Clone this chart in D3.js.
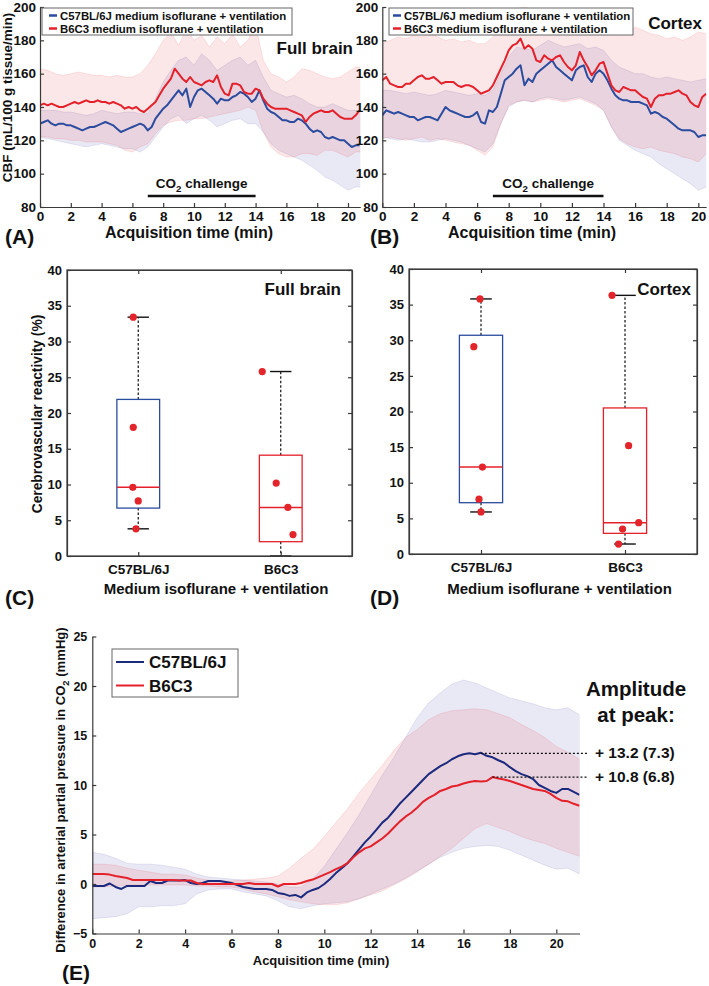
<!DOCTYPE html>
<html>
<head>
<meta charset="utf-8">
<script src="https://cdn.jsdelivr.net/npm/d3@7"></script>
<style>
  body { margin: 0; background: #fff; }
  svg text { font-family: "Liberation Sans", Arial, Helvetica, sans-serif; font-weight: bold; fill: #111; }
</style>
</head>
<body>
<script>
// sampling of the time courses (minutes)
const cbfStep = 0.25;
const bandStep = 0.5;

// (A) full brain CBF, mean and SD envelope
const fullC57 = [130,131,132,130,129,130,130,129,129,128,127,126,127,128,128,129,130,131,130,129,127,125,126,127,128,129,130,129,126,128,133,136,139,141,144,147,150,147,151,140,146,150,151,149,147,145,142,145,144,144,146,147,149,148,146,143,145,150,144,139,137,136,134,132,132,131,131,133,132,130,127,125,126,125,122,121,122,121,120,120,118,116,117,117];
const fullB6C3 = [141,142,141,142,141,140,140,141,142,143,142,143,144,143,143,144,143,143,142,143,142,141,139,140,139,140,138,137,139,141,143,147,151,154,157,163,160,157,155,158,155,154,153,155,156,155,159,152,148,147,154,154,153,149,148,148,151,150,145,142,140,139,139,139,139,138,137,136,135,131,134,136,137,138,137,137,138,136,134,133,133,133,135,138];
const fullC57Hi = [138,138,138,137,137,136,135,136,138,137,136,137,137,136,136,145,155,162,168,170,165,172,168,162,165,168,170,165,168,158,150,148,146,147,145,142,140,140,142,140,138,138,137];
const fullC57Lo = [122,121,120,119,118,117,116,117,118,117,116,115,115,113,116,122,128,133,135,130,133,135,132,128,130,132,133,130,130,125,118,114,112,110,108,105,102,98,96,93,90,92,92];
const fullB6C3Hi = [163,162,160,159,160,161,160,159,159,158,159,158,158,160,165,172,180,185,177,187,180,183,176,182,178,184,176,180,189,168,160,158,155,158,163,162,160,158,157,158,161,164,164];
const fullB6C3Lo = [122,122,121,121,120,120,119,119,119,118,117,114,113,116,118,124,129,131,132,132,133,133,134,135,136,137,138,140,138,125,116,112,110,110,112,112,111,114,114,112,110,113,113];

// (B) cortex CBF
const ctxC57 = [135,138,137,136,137,136,135,134,134,132,133,134,134,133,132,136,140,138,137,136,135,134,134,135,137,131,130,138,137,140,148,156,158,160,163,165,153,157,155,160,162,164,166,168,164,162,160,158,156,162,164,165,158,155,160,162,160,156,151,147,145,144,144,143,143,143,142,141,136,137,136,134,133,131,129,127,126,126,126,125,122,123,123];
const ctxB6C3 = [156,158,154,153,152,152,154,154,156,158,159,157,157,158,156,154,155,155,155,153,152,153,153,152,150,148,149,150,153,158,163,168,174,177,178,181,175,177,175,168,167,171,169,168,170,171,167,164,162,165,173,168,164,159,162,166,167,160,153,150,149,152,151,150,150,148,146,145,140,145,147,147,148,148,149,150,148,147,143,141,140,146,148];
const ctxC57Hi = [150,150,149,148,149,148,147,148,150,149,148,147,148,147,150,160,170,176,175,174,177,180,178,176,177,178,175,176,174,168,164,162,160,160,158,157,158,157,156,155,156,157,157];
const ctxC57Lo = [122,121,120,121,120,119,119,120,121,120,119,117,115,113,118,130,140,143,144,143,145,146,145,144,145,146,144,142,138,128,120,117,114,112,110,106,103,100,97,94,90,92,92];
const ctxB6C3Hi = [178,180,182,181,183,182,184,182,180,181,179,180,178,178,182,190,196,199,200,198,199,197,198,196,199,197,196,198,195,188,185,184,188,186,184,183,181,182,180,182,185,184,184];
const ctxB6C3Lo = [121,122,121,120,121,122,120,121,120,119,118,117,114,111,116,130,141,143,144,143,144,145,144,143,144,145,143,141,138,128,121,118,116,115,116,114,113,112,110,109,107,112,112];

const co2Challenge = [7, 14];

// (C) and (D) cerebrovascular reactivity (%)
const strains = ['C57BL/6J', 'B6C3'];
const fullReact = [[33.4, 18.0, 9.6, 7.7, 3.8], [25.8, 10.2, 6.8, 3.0]];
const fullJitter = [[-0.035, -0.035, -0.038, 0, -0.016], [-0.13, -0.032, 0.05, 0.086]];
const fullBoxes = [[3.8, 6.7, 9.6, 21.9, 33.4], [0, 2.0, 6.8, 14.1, 25.8]];   // lo, q1, median, q3, hi
const ctxReact = [[35.8, 29.1, 12.2, 7.7, 5.9], [36.3, 15.2, 4.4, 3.5, 1.4]];
const ctxJitter = [[-0.007, -0.05, 0.01, -0.014, 0], [-0.09, 0.025, 0.095, -0.017, -0.045]];
const ctxBoxes = [[5.9, 7.2, 12.2, 30.7, 35.8], [1.4, 2.9, 4.4, 20.5, 36.3]];

// (E) arterial pCO2 difference (mmHg)
const pco2C57 = [-0.2,-0.2,-0.2,0.05,-0.3,-0.5,-0.2,-0.2,-0.2,-0.2,0.3,0.1,0.1,0.35,0.35,0.35,0.4,0.1,0.0,0.1,0.3,0.3,0.3,0.2,0.1,-0.1,-0.3,-0.4,-0.5,-0.5,-0.5,-0.6,-0.9,-1.0,-1.2,-1.1,-1.35,-0.85,-0.6,-0.4,0.0,0.5,1.1,1.6,2.1,2.8,3.5,4.2,4.8,5.5,6.2,6.7,7.4,8.1,8.7,9.3,9.9,10.5,11.1,11.5,11.9,12.2,12.6,12.9,13.1,13.2,13.1,13.25,12.95,12.8,12.5,12.25,11.8,11.4,11.1,10.9,10.6,10.0,9.7,9.4,9.2,9.6,9.6,9.3,9.0];
const pco2B6C3 = [1.0,1.0,1.0,0.95,0.8,0.7,0.6,0.4,0.4,0.4,0.4,0.4,0.4,0.4,0.4,0.35,0.35,0.35,0.1,0.0,0.0,0.0,0.0,0.0,0.0,0.0,0.0,0.1,0.0,0.0,0.0,0.0,-0.25,0.0,0.0,0.0,0.1,0.3,0.45,0.7,0.95,1.2,1.5,1.75,2.1,2.7,3.2,3.6,3.8,4.2,4.6,5.1,5.7,6.3,6.8,7.2,7.7,8.3,8.7,9.0,9.4,9.6,9.85,9.95,10.15,10.3,10.4,10.35,10.4,10.8,10.65,10.55,10.4,10.2,10.0,9.8,9.6,9.5,9.4,9.1,8.7,8.4,8.35,8.1,7.9];
const pco2C57Hi = [3.2,3.0,2.6,2.1,2.0,2.0,1.9,1.7,1.5,1.0,0.7,0.6,0.5,0.4,0.3,0.2,0.0,-0.3,-0.3,0.5,1.8,3.5,5.2,7.0,9.0,11.0,12.8,14.8,16.8,18.3,19.3,20.2,20.6,20.3,19.8,19.3,18.8,18.5,18.2,17.8,17.6,17.8,17.1];
const pco2C57Lo = [-3.5,-3.4,-3.3,-3.0,-2.3,-2.3,-2.2,-2.2,-2.0,-1.0,-0.6,-0.5,-0.5,-0.8,-1.0,-1.2,-1.7,-2.3,-2.5,-2.2,-2.0,-1.9,-1.8,-1.5,-1.0,-0.5,0.0,0.6,1.3,2.0,2.7,3.2,3.6,3.8,3.9,3.8,3.4,2.9,2.4,1.9,1.5,1.6,1.0];
const pco2B6C3Hi = [2.0,2.0,1.9,1.6,1.4,1.2,1.0,1.0,0.9,0.6,0.4,0.3,0.3,0.4,0.5,0.6,0.8,1.6,2.6,3.5,4.8,6.2,7.6,9.2,10.6,12.0,13.5,14.8,15.6,16.6,17.2,17.5,17.6,17.7,17.6,17.2,16.8,16.1,15.5,14.8,13.9,13.3,12.6];
const pco2B6C3Lo = [-0.3,-0.3,-0.2,-0.1,-0.1,-0.1,-0.1,-0.1,-0.1,-0.2,-0.2,-0.3,-0.3,-0.5,-0.8,-1.0,-1.3,-1.6,-1.8,-2.0,-2.1,-2.1,-1.9,-1.5,-1.1,-0.7,-0.1,0.5,1.2,2.0,2.8,3.6,4.6,5.6,6.1,5.7,5.3,4.8,4.4,4.1,3.6,3.2,2.8];
const peakTime = [16.75, 17.25];
const peakValue = [13.2, 10.8];
const peakSD = [7.3, 6.8];

const blue = '#2b4c9e', red = '#e4202a', navy = '#1c2a7e';
const blueFill = '#3838a8', redFill = '#e8202a';

const svg = d3.select('body').append('svg')
  .attr('width', 709)
  .attr('height', 986);

const series = (vals, step) => vals.map((v, i) => [i * step, v]);
const envelope = (lo, hi, step) => lo.map((v, i) => [i * step, v, hi[i]]);

function styleAxis(g, size) {
  g.attr('font-size', size).attr('font-family', null);
  g.select('.domain').attr('stroke', '#3a3a3a').attr('stroke-width', 1.2);
  g.selectAll('.tick line').attr('stroke', '#3a3a3a').attr('stroke-width', 1.2);
}

function co2Text(sel, before, after) {
  sel.append('tspan').text(before + 'CO');
  sel.append('tspan').attr('dy', 4).attr('font-size', '0.72em').text('2');
  sel.append('tspan').attr('dy', -4).text(after);
}

function drawBands(plot, x, y, bands) {
  const area = d3.area().x(d => x(d[0])).y0(d => y(d[1])).y1(d => y(d[2]));
  bands.forEach(b => {
    plot.append('path')
      .datum(b.data)
      .attr('d', area)
      .attr('fill', b.color)
      .attr('fill-opacity', 0.11)
      .attr('stroke', b.color)
      .attr('stroke-opacity', 0.16)
      .attr('stroke-width', 0.7);
  });
}

function drawLines(plot, x, y, lines) {
  const line = d3.line().x(d => x(d[0])).y(d => y(d[1]));
  lines.forEach(l => {
    plot.append('path')
      .datum(l.data)
      .attr('d', line)
      .attr('fill', 'none')
      .attr('stroke', l.color)
      .attr('stroke-width', 2)
      .attr('stroke-linejoin', 'round');
  });
}

// ---------- CBF panels (A), (B) ----------
function cbfPanel(o) {
  const top = 7, bottom = 207;
  const x = d3.scaleLinear().domain([0, o.tMax]).range([o.left, o.right]);
  const y = d3.scaleLinear().domain([80, 200]).range([bottom, top]);

  svg.append('clipPath').attr('id', 'clip' + o.key)
    .append('rect')
    .attr('x', o.left).attr('y', top)
    .attr('width', o.right - o.left).attr('height', bottom - top);

  const plot = svg.append('g').attr('clip-path', `url(#clip${o.key})`);
  drawBands(plot, x, y, [
    { data: envelope(o.c57Lo, o.c57Hi, bandStep), color: blueFill },
    { data: envelope(o.b6Lo, o.b6Hi, bandStep), color: redFill }
  ]);
  drawLines(plot, x, y, [
    { data: series(o.c57, cbfStep), color: blue },
    { data: series(o.b6, cbfStep), color: red }
  ]);

  const xAxis = d3.axisBottom(x).tickValues(d3.range(0, 21, 2)).tickSize(-4).tickSizeOuter(0).tickPadding(4);
  const yAxis = d3.axisLeft(y).tickValues(d3.range(80, 201, 20)).tickSize(-4).tickSizeOuter(0).tickPadding(4);
  svg.append('g').attr('transform', `translate(0, ${bottom})`).call(xAxis).call(g => styleAxis(g, 13.5));
  svg.append('g').attr('transform', `translate(${o.left}, 0)`).call(yAxis).call(g => styleAxis(g, 13.5));

  // CO2 challenge bar
  svg.append('line')
    .attr('x1', x(co2Challenge[0])).attr('x2', x(co2Challenge[1]))
    .attr('y1', 196).attr('y2', 196)
    .attr('stroke', '#111').attr('stroke-width', 2.6);
  svg.append('text')
    .attr('x', x(d3.mean(co2Challenge))).attr('y', 188)
    .attr('text-anchor', 'middle').attr('font-size', 13.5)
    .call(t => co2Text(t, '', ' challenge'));

  // legend
  const lg = svg.append('g');
  lg.append('rect')
    .attr('x', o.legX).attr('y', 8).attr('width', o.legW).attr('height', 27)
    .attr('fill', '#fff').attr('stroke', '#666').attr('stroke-width', 1);
  [['C57BL/6J medium isoflurane + ventilation', blue], ['B6C3 medium isoflurane + ventilation', red]]
    .forEach(([label, col], i) => {
      const by = 19.5 + i * 13;
      lg.append('line')
        .attr('x1', o.legX + o.legPad).attr('x2', o.legX + o.legPad + 8)
        .attr('y1', by - 4).attr('y2', by - 4)
        .attr('stroke', col).attr('stroke-width', 2.5);
      lg.append('text')
        .attr('x', o.legX + o.legPad + 11).attr('y', by)
        .attr('font-size', 11.4)
        .text(label);
    });

  svg.append('text')
    .attr('x', o.titleX).attr('y', o.titleY)
    .attr('text-anchor', 'end').attr('font-size', 17)
    .text(o.title);

  svg.append('text')
    .attr('x', o.xLabelX).attr('y', 238)
    .attr('text-anchor', 'middle').attr('font-size', 16)
    .text('Acquisition time (min)');

  svg.append('text')
    .attr('x', o.tagX).attr('y', 244)
    .attr('font-size', 21)
    .text(o.tag);
}

cbfPanel({
  key: 'A', left: 40, right: 360.3, tMax: 20.8,
  c57: fullC57, b6: fullB6C3,
  c57Lo: fullC57Lo, c57Hi: fullC57Hi, b6Lo: fullB6C3Lo, b6Hi: fullB6C3Hi,
  legX: 42, legW: 250, legPad: 7,
  title: 'Full brain', titleX: 353, titleY: 54,
  xLabelX: 189, tag: '(A)', tagX: 5
});

cbfPanel({
  key: 'B', left: 382.3, right: 706.2, tMax: 20.5,
  c57: ctxC57, b6: ctxB6C3,
  c57Lo: ctxC57Lo, c57Hi: ctxC57Hi, b6Lo: ctxB6C3Lo, b6Hi: ctxB6C3Hi,
  legX: 389, legW: 244, legPad: 4,
  title: 'Cortex', titleX: 702, titleY: 29,
  xLabelX: 532, tag: '(B)', tagX: 370
});

svg.append('text')
  .attr('transform', 'translate(12, 97.5) rotate(-90)')
  .attr('text-anchor', 'middle').attr('font-size', 13.5)
  .text('CBF (mL/100 g tissue/min)');

// ---------- Box plots (C), (D) ----------
function boxPanel(o) {
  const x = d3.scaleLinear().domain([0.5, 2.5]).range([o.left, o.right]);
  const y = d3.scaleLinear().domain([0, 40]).range([o.bottom, o.top]);
  const g = svg.append('g');
  const half = 0.15, capHalf = 0.075;
  const boxColors = [blue, red];

  o.boxes.forEach((b, i) => {
    const c = i + 1;
    const [lo, q1, med, q3, hi] = b;
    [[q3, hi], [q1, lo]].forEach(([a, e]) => {
      g.append('line')
        .attr('x1', x(c)).attr('x2', x(c)).attr('y1', y(a)).attr('y2', y(e))
        .attr('stroke', '#111').attr('stroke-width', 1.2).attr('stroke-dasharray', '2.5,2');
    });
    g.append('rect')
      .attr('x', x(c - half)).attr('y', y(q3))
      .attr('width', x(c + half) - x(c - half)).attr('height', y(q1) - y(q3))
      .attr('fill', 'none').attr('stroke', boxColors[i]).attr('stroke-width', 1.3);
    g.append('line')
      .attr('x1', x(c - half)).attr('x2', x(c + half)).attr('y1', y(med)).attr('y2', y(med))
      .attr('stroke', red).attr('stroke-width', 1.5);
    [lo, hi].forEach(v => {
      g.append('line')
        .attr('x1', x(c - capHalf)).attr('x2', x(c + capHalf)).attr('y1', y(v)).attr('y2', y(v))
        .attr('stroke', '#111').attr('stroke-width', 1.4);
    });
  });

  o.points.forEach((pts, i) => {
    g.selectAll(null)
      .data(pts)
      .enter()
      .append('circle')
      .attr('cx', (d, j) => x(i + 1 + o.jitter[i][j]))
      .attr('cy', d => y(d))
      .attr('r', 3.6)
      .attr('fill', '#e3242b');
  });

  // frame and axes
  svg.append('rect')
    .attr('x', o.left).attr('y', o.top)
    .attr('width', o.right - o.left).attr('height', o.bottom - o.top)
    .attr('fill', 'none').attr('stroke', '#3a3a3a').attr('stroke-width', 1.2);

  const yTicks = d3.range(0, 41, 5);
  svg.append('g').attr('transform', `translate(${o.left}, 0)`)
    .call(d3.axisLeft(y).tickValues(yTicks).tickSize(-4).tickSizeOuter(0).tickPadding(5))
    .call(a => styleAxis(a, 13));
  svg.append('g').attr('transform', `translate(${o.right}, 0)`)
    .call(d3.axisRight(y).tickValues(yTicks).tickSize(-4).tickSizeOuter(0).tickFormat(''))
    .call(a => styleAxis(a, 13));
  svg.append('g').attr('transform', `translate(0, ${o.bottom})`)
    .call(d3.axisBottom(x).tickValues([1, 2]).tickSize(-4).tickSizeOuter(0).tickPadding(8)
      .tickFormat(d => strains[d - 1]))
    .call(a => styleAxis(a, 13.5));
  svg.append('g').attr('transform', `translate(0, ${o.top})`)
    .call(d3.axisTop(x).tickValues([1, 2]).tickSize(-4).tickSizeOuter(0).tickFormat(''))
    .call(a => styleAxis(a, 13));

  svg.append('text')
    .attr('x', o.titleX).attr('y', 295)
    .attr('text-anchor', 'end').attr('font-size', 17)
    .text(o.title);

  svg.append('text')
    .attr('x', (o.left + o.right) / 2 + 6.5).attr('y', 594)
    .attr('text-anchor', 'middle').attr('font-size', 15)
    .text('Medium isoflurane + ventilation');

  svg.append('text')
    .attr('x', o.tagX).attr('y', 605)
    .attr('font-size', 21)
    .text(o.tag);
}

boxPanel({
  left: 67, right: 352, top: 270, bottom: 556,
  points: fullReact, jitter: fullJitter, boxes: fullBoxes,
  title: 'Full brain', titleX: 341, tag: '(C)', tagX: 5
});

boxPanel({
  left: 409, right: 697, top: 269, bottom: 554,
  points: ctxReact, jitter: ctxJitter, boxes: ctxBoxes,
  title: 'Cortex', titleX: 691, tag: '(D)', tagX: 370
});

svg.append('text')
  .attr('transform', 'translate(42, 414) rotate(-90)')
  .attr('text-anchor', 'middle').attr('font-size', 13.8)
  .text('Cerebrovascular reactivity (%)');

// ---------- pCO2 panel (E) ----------
{
  const left = 92.3, right = 579.5, top = 636.5, bottom = 933.5;
  const x = d3.scaleLinear().domain([0, 21]).range([left, right]);
  const y = d3.scaleLinear().domain([-5, 25]).range([bottom, top]);

  svg.append('clipPath').attr('id', 'clipE')
    .append('rect')
    .attr('x', left).attr('y', top).attr('width', right - left).attr('height', bottom - top);
  const plot = svg.append('g').attr('clip-path', 'url(#clipE)');

  drawBands(plot, x, y, [
    { data: envelope(pco2C57Lo, pco2C57Hi, bandStep), color: blueFill },
    { data: envelope(pco2B6C3Lo, pco2B6C3Hi, bandStep), color: redFill }
  ]);
  drawLines(plot, x, y, [
    { data: series(pco2C57, cbfStep), color: navy },
    { data: series(pco2B6C3, cbfStep), color: red }
  ]);

  svg.append('g').attr('transform', `translate(0, ${bottom})`)
    .call(d3.axisBottom(x).tickValues(d3.range(0, 21, 2)).tickSize(-4).tickSizeOuter(0).tickPadding(6))
    .call(a => styleAxis(a, 12.5));
  svg.append('g').attr('transform', `translate(${left}, 0)`)
    .call(d3.axisLeft(y).tickValues(d3.range(-5, 26, 5)).tickSize(-4).tickSizeOuter(0).tickPadding(5))
    .call(a => styleAxis(a, 12.5));

  // peak amplitude annotations
  peakTime.forEach((t, i) => {
    svg.append('line')
      .attr('x1', x(t)).attr('x2', 588)
      .attr('y1', y(peakValue[i])).attr('y2', y(peakValue[i]))
      .attr('stroke', '#111').attr('stroke-width', 1.2).attr('stroke-dasharray', '2,2');
    svg.append('text')
      .attr('x', 595).attr('y', y(peakValue[i]) + 4.5)
      .attr('font-size', 15.5)
      .text(`+ ${peakValue[i].toFixed(1)} (${peakSD[i].toFixed(1)})`);
  });

  svg.append('text')
    .attr('x', 636).attr('y', 696)
    .attr('text-anchor', 'middle').attr('font-size', 20.5)
    .text('Amplitude');
  svg.append('text')
    .attr('x', 636).attr('y', 722)
    .attr('text-anchor', 'middle').attr('font-size', 20.5)
    .text('at peak:');

  // legend
  const lg = svg.append('g');
  lg.append('rect')
    .attr('x', 112).attr('y', 649).attr('width', 126).attr('height', 48)
    .attr('fill', '#fff').attr('stroke', '#666').attr('stroke-width', 1);
  [['C57BL/6J', navy], ['B6C3', red]].forEach(([label, col], i) => {
    const by = 668 + i * 23.5;
    lg.append('line')
      .attr('x1', 116).attr('x2', 144).attr('y1', by - 6).attr('y2', by - 6)
      .attr('stroke', col).attr('stroke-width', 2);
    lg.append('text')
      .attr('x', 149).attr('y', by)
      .attr('font-size', 17)
      .text(label);
  });

  svg.append('text')
    .attr('x', 321).attr('y', 965)
    .attr('text-anchor', 'middle').attr('font-size', 13)
    .text('Acquisition time (min)');

  svg.append('text')
    .attr('transform', 'translate(65, 790) rotate(-90)')
    .attr('text-anchor', 'middle').attr('font-size', 13.1)
    .call(t => co2Text(t, 'Difference in arterial partial pressure in ', ' (mmHg)'));

  svg.append('text')
    .attr('x', 62).attr('y', 980)
    .attr('font-size', 21)
    .text('(E)');
}
</script>
</body>
</html>
